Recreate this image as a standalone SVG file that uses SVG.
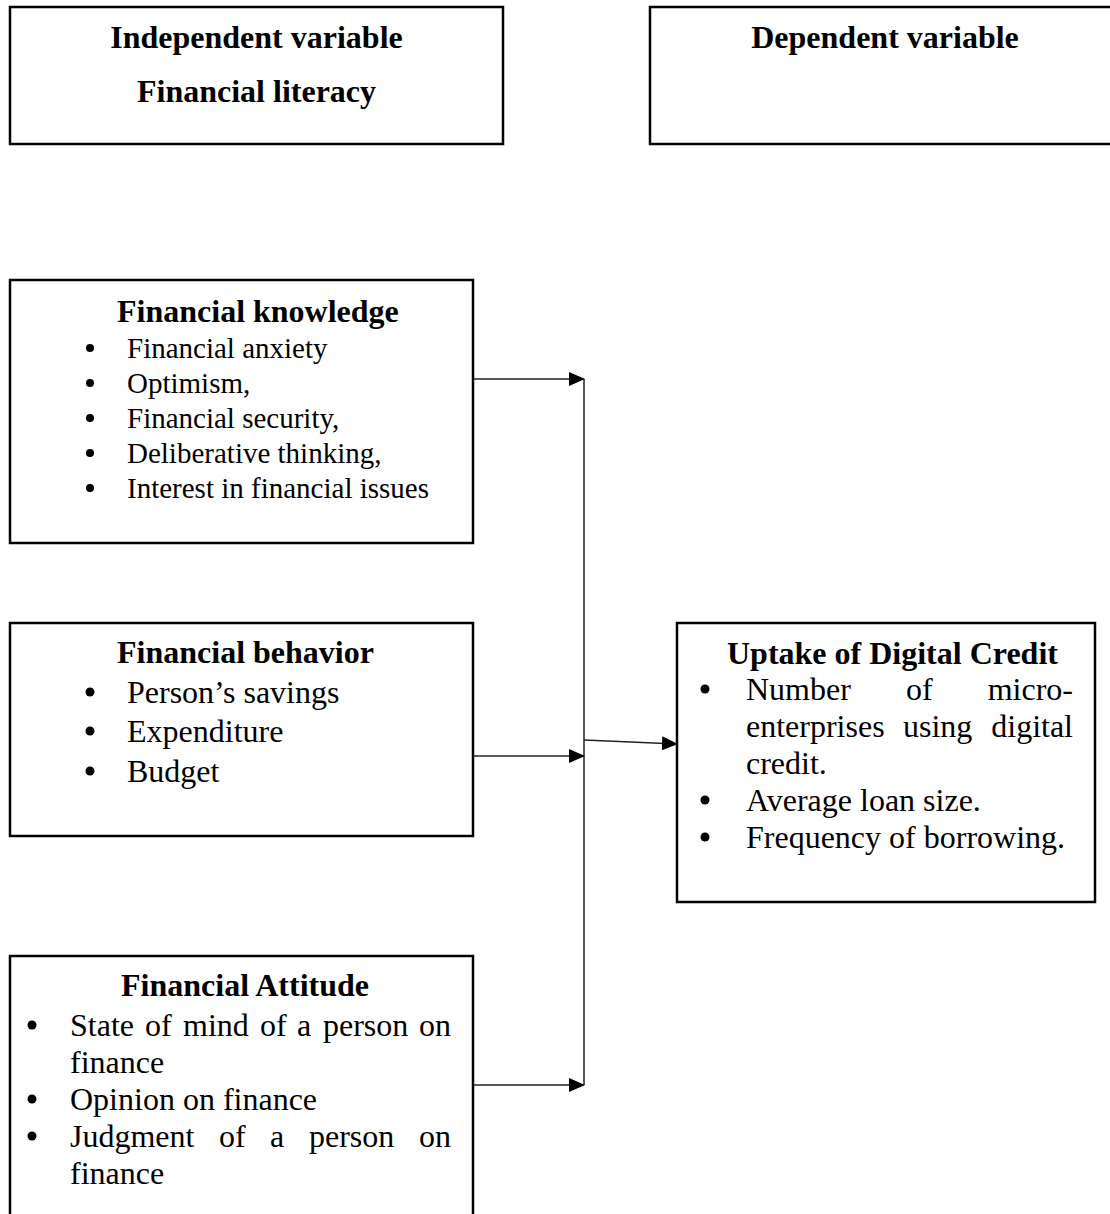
<svg xmlns="http://www.w3.org/2000/svg" width="1110" height="1214" viewBox="0 0 1110 1214">
<style>
.box{fill:#fff;stroke:#000;stroke-width:2.5}
.t{font-family:"Liberation Serif","Times New Roman",serif;fill:#000}
.b{font-weight:bold;font-size:32px}
.i{font-size:32px}
.k{font-size:29px}
.dot{fill:#000}
.c{fill:none;stroke:#222;stroke-width:1.5}
</style>
<defs>
<marker id="ah" markerUnits="userSpaceOnUse" markerWidth="16" markerHeight="14" refX="15" refY="7" orient="auto">
<path d="M0,0 L16,7 L0,14 z" fill="#000"/>
</marker>
</defs>
<rect width="1110" height="1214" fill="#fff"/>
<g id="independent">
<rect class="box" x="10" y="7" width="493" height="137"/>
<text class="t b" x="256.5" y="48" text-anchor="middle">Independent variable</text>
<text class="t b" x="256.5" y="102" text-anchor="middle">Financial literacy</text>
</g>
<g id="dependent">
<rect class="box" x="650" y="7" width="480" height="137"/>
<text class="t b" x="885" y="48" text-anchor="middle">Dependent variable</text>
</g>
<g id="knowledge">
<rect class="box" x="10" y="280" width="463" height="263"/>
<text class="t b" x="117" y="322">Financial knowledge</text>
<circle class="dot" cx="90" cy="348" r="4"/><text class="t k" x="127" y="358">Financial anxiety</text>
<circle class="dot" cx="90" cy="383" r="4"/><text class="t k" x="127" y="393">Optimism,</text>
<circle class="dot" cx="90" cy="418" r="4"/><text class="t k" x="127" y="428">Financial security,</text>
<circle class="dot" cx="90" cy="453" r="4"/><text class="t k" x="127" y="463">Deliberative thinking,</text>
<circle class="dot" cx="90" cy="488" r="4"/><text class="t k" x="127" y="498">Interest in financial issues</text>
</g>
<g id="behavior">
<rect class="box" x="10" y="623" width="463" height="213"/>
<text class="t b" x="117" y="663">Financial behavior</text>
<circle class="dot" cx="90" cy="692" r="4.5"/><text class="t i" x="127" y="703">Person’s savings</text>
<circle class="dot" cx="90" cy="731" r="4.5"/><text class="t i" x="127" y="742">Expenditure</text>
<circle class="dot" cx="90" cy="771" r="4.5"/><text class="t i" x="127" y="782">Budget</text>
</g>
<g id="attitude">
<rect class="box" x="10" y="956" width="463" height="280"/>
<text class="t b" x="121" y="996">Financial Attitude</text>
<circle class="dot" cx="32" cy="1025" r="4.5"/>
<text class="t i" y="1036"><tspan x="70">State</tspan><tspan x="145">of</tspan><tspan x="183">mind</tspan><tspan x="260">of</tspan><tspan x="297">a</tspan><tspan x="323">person</tspan></text>
<text class="t i" x="451" y="1036" text-anchor="end">on</text>
<text class="t i" x="70" y="1073">finance</text>
<circle class="dot" cx="32" cy="1099" r="4.5"/><text class="t i" x="70" y="1110">Opinion on finance</text>
<circle class="dot" cx="32" cy="1136" r="4.5"/>
<text class="t i" y="1147"><tspan x="70">Judgment</tspan><tspan x="219">of</tspan><tspan x="270">a</tspan><tspan x="309">person</tspan></text>
<text class="t i" x="451" y="1147" text-anchor="end">on</text>
<text class="t i" x="70" y="1184">finance</text>
</g>
<g id="uptake">
<rect class="box" x="677" y="623" width="418" height="279"/>
<text class="t b" x="727" y="664">Uptake of Digital Credit</text>
<circle class="dot" cx="705" cy="689" r="4.5"/>
<text class="t i" y="700"><tspan x="746">Number</tspan><tspan x="906">of</tspan></text>
<text class="t i" x="1073" y="700" text-anchor="end">micro-</text>
<text class="t i" y="737"><tspan x="746">enterprises</tspan><tspan x="903">using</tspan></text>
<text class="t i" x="1073" y="737" text-anchor="end">digital</text>
<text class="t i" x="746" y="774">credit.</text>
<circle class="dot" cx="705" cy="800" r="4.5"/><text class="t i" x="746" y="811">Average loan size.</text>
<circle class="dot" cx="705" cy="837" r="4.5"/><text class="t i" x="746" y="848">Frequency of borrowing.</text>
</g>
<g id="connectors">
<line class="c" x1="473" y1="379" x2="584" y2="379" marker-end="url(#ah)"/>
<line class="c" x1="473" y1="756" x2="584" y2="756" marker-end="url(#ah)"/>
<line class="c" x1="473" y1="1085" x2="584" y2="1085" marker-end="url(#ah)"/>
<line class="c" x1="584" y1="379" x2="584" y2="1085"/>
<line class="c" x1="584" y1="740" x2="677" y2="744" marker-end="url(#ah)"/>
</g>
</svg>
